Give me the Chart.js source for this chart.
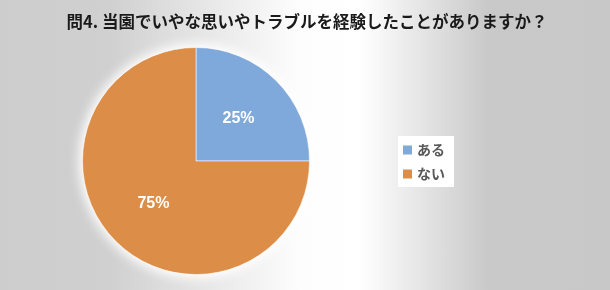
<!DOCTYPE html>
<html><head><meta charset="utf-8">
<script src="https://cdn.jsdelivr.net/npm/chart.js@4.4.1/dist/chart.umd.min.js"></script>
<style>
html,body{margin:0;padding:0;}
body{width:610px;height:290px;overflow:hidden;background:linear-gradient(to right,#cdcdcd 0%,#d0d0d0 18%,#fdfdfd 49%,#ffffff 59%,#c9c9c9 80%,#c8c8c8 100%);}
#wrap{position:relative;width:610px;height:290px;}
</style></head><body>
<div id="wrap"><canvas id="c" width="610" height="290"></canvas></div>
<script>
const titleText = '問4. 当園でいやな思いやトラブルを経験したことがありますか？';
const categories = ['ある', 'ない'];
const values = [25, 75];
const colors = ['#7FA9DB', '#DC8D47'];

const glowPlugin = {
  id: 'glow',
  beforeDatasetsDraw(chart) {
    const arc = chart.getDatasetMeta(0).data[0];
    if (!arc) return;
    const p = arc.getProps(['x', 'y', 'outerRadius'], true);
    const ctx = chart.ctx;
    ctx.save();
    ctx.shadowColor = 'rgba(255,255,255,1)';
    ctx.shadowBlur = 14;
    ctx.fillStyle = '#ffffff';
    ctx.beginPath();
    ctx.arc(p.x, p.y, p.outerRadius, 0, Math.PI * 2);
    ctx.fill();
    ctx.fill();
    ctx.restore();
  }
};

const labelPlugin = {
  id: 'sliceLabels',
  afterDatasetsDraw(chart) {
    const ctx = chart.ctx;
    const meta = chart.getDatasetMeta(0);
    ctx.save();
    ctx.fillStyle = '#ffffff';
    ctx.font = 'bold 16px "Liberation Sans", Arial, sans-serif';
    ctx.textAlign = 'center';
    ctx.textBaseline = 'middle';
    meta.data.forEach((arc, i) => {
      const p = arc.getProps(['x', 'y', 'startAngle', 'endAngle', 'outerRadius'], true);
      const a = (p.startAngle + p.endAngle) / 2;
      const r = p.outerRadius * 0.53;
      ctx.fillText(values[i] + '%', p.x + Math.cos(a) * r, p.y + Math.sin(a) * r);
    });
    ctx.restore();
  }
};

const titleLegendPlugin = {
  id: 'titleLegend',
  afterDraw(chart) {
    const ctx = chart.ctx;
    ctx.save();
    ctx.fillStyle = '#1a1a1a';
    ctx.font = 'bold 16.5px "Noto Sans CJK JP", sans-serif';
    ctx.textAlign = 'center';
    ctx.textBaseline = 'middle';
    ctx.fillText(titleText, 307, 22);

    // legend box
    ctx.fillStyle = '#ffffff';
    ctx.fillRect(398, 136, 56, 51);
    ctx.font = 'bold 14px "Noto Sans CJK JP", sans-serif';
    ctx.textAlign = 'left';
    categories.forEach((c, i) => {
      const y = 150 + i * 24;
      ctx.fillStyle = colors[i];
      ctx.fillRect(403, y - 4.5, 9, 9);
      ctx.fillStyle = '#595959';
      ctx.fillText(c, 417, y);
    });
    ctx.restore();
  }
};

new Chart(document.getElementById('c'), {
  type: 'pie',
  data: {
    labels: categories,
    datasets: [{
      data: values,
      backgroundColor: colors,
      borderColor: 'rgba(255,255,255,0.55)',
      borderWidth: 1
    }]
  },
  options: {
    responsive: false,
    animation: false,
    devicePixelRatio: 1,
    layout: { padding: { top: 47, bottom: 15, left: 82, right: 300 } },
    plugins: {
      legend: { display: false },
      title: { display: false },
      tooltip: { enabled: false }
    }
  },
  plugins: [glowPlugin, labelPlugin, titleLegendPlugin]
});
</script>
</body></html>
